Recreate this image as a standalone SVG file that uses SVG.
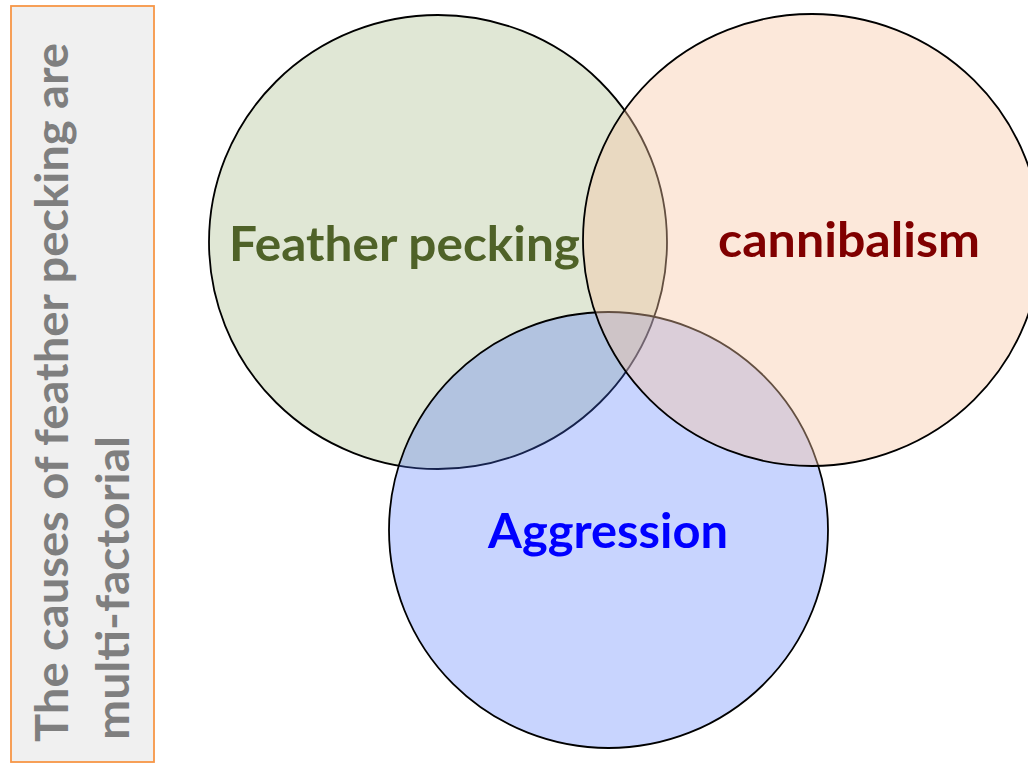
<svg xmlns="http://www.w3.org/2000/svg" width="1028" height="763" viewBox="0 0 1028 763">
<style>
.lbl{font-family:Lato,"Liberation Sans",sans-serif;font-weight:bold;font-size:48px}
.side{font-family:Lato,"Liberation Sans",sans-serif;font-weight:bold;font-size:46px;fill:#7F7F7F}
.c{stroke:#000;stroke-width:1.8}
</style>
<rect width="1028" height="763" fill="#fff"/>
<g id="sidebar">
<rect x="11" y="6" width="143" height="756" fill="#F0F0F0" stroke="#F79646" stroke-width="1.8"/>
<text class="side" transform="translate(68,742) rotate(-90)" textLength="699" lengthAdjust="spacingAndGlyphs">The causes of feather pecking are</text>
<text class="side" transform="translate(129,740) rotate(-90)" textLength="304" lengthAdjust="spacingAndGlyphs">multi-factorial</text>
</g>
<g id="feather-pecking">
<ellipse class="c" cx="438" cy="242" rx="229" ry="227" fill="#E0E7D5"/>
</g>
<g id="aggression">
<ellipse class="c" cx="608.5" cy="530" rx="219.5" ry="218" fill="#4870FC" fill-opacity="0.3"/>
</g>
<g id="cannibalism">
<ellipse class="c" cx="812" cy="240" rx="229" ry="226" fill="#F7C5A2" fill-opacity="0.4"/>
</g>
<g id="labels">
<text class="lbl" x="229" y="261" fill="#4F6228" textLength="351" lengthAdjust="spacingAndGlyphs">Feather pecking</text>
<text class="lbl" x="718" y="257" fill="#800000" textLength="262" lengthAdjust="spacingAndGlyphs">cannibalism</text>
<text class="lbl" x="488" y="548" fill="#0000FF" textLength="240" lengthAdjust="spacingAndGlyphs">Aggression</text>
</g>
</svg>
